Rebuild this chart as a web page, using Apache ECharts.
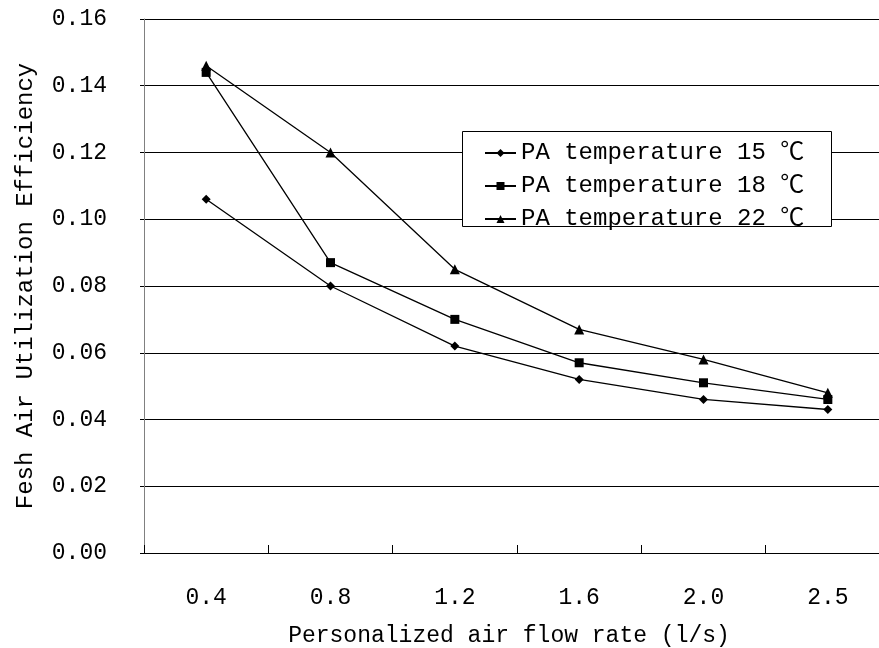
<!DOCTYPE html>
<html>
<head>
<meta charset="utf-8">
<script src="https://cdn.jsdelivr.net/npm/echarts@6/dist/echarts.min.js"></script>
<style>
  html, body { margin: 0; padding: 0; background: #fff; }
  #chart { width: 879px; height: 648px; }
</style>
</head>
<body>
<div id="chart"></div>
<script>
// Personalized air flow rate categories (l/s)
const categories = ['0.4', '0.8', '1.2', '1.6', '2.0', '2.5'];
// Fresh air utilization efficiency per PA supply temperature
const pa15 = [0.106, 0.080, 0.062, 0.052, 0.046, 0.043];
const pa18 = [0.144, 0.087, 0.070, 0.057, 0.051, 0.046];
const pa22 = [0.146, 0.120, 0.085, 0.067, 0.058, 0.048];
const seriesNames = ['PA temperature 15 \u2103', 'PA temperature 18 \u2103', 'PA temperature 22 \u2103'];

const FONT = '"Liberation Mono", "Noto Sans CJK SC", monospace';

const chart = echarts.init(document.getElementById('chart'), null, { renderer: 'canvas' });

function lineSeries(name, data, symbol, size) {
  return {
    name: name,
    type: 'line',
    data: data,
    symbol: symbol,
    symbolSize: size,
    showSymbol: true,
    animation: false,
    lineStyle: { color: '#000', width: 1.3 },
    itemStyle: { color: '#000' }
  };
}

chart.setOption({
  animation: false,
  backgroundColor: '#fff',
  textStyle: { fontFamily: FONT },
  // plot area runs slightly past the right edge of the canvas
  grid: { left: 144, top: 19, width: 746, height: 534, outerBoundsMode: 'none', containLabel: false },
  // framed white panel behind the legend
  graphic: [{
    type: 'rect',
    z: 3,
    shape: { x: 462.5, y: 131.5, width: 369, height: 95 },
    style: { fill: '#fff', stroke: '#000', lineWidth: 1 }
  }],
  legend: {
    orient: 'vertical',
    left: 462,
    top: 131,
    z: 5,
    padding: [10, 28, 0, 22],
    itemWidth: 31,
    itemHeight: 10,
    itemGap: 9,
    textStyle: { fontFamily: FONT, fontSize: 24, color: '#000' },
    data: seriesNames
  },
  xAxis: {
    type: 'category',
    data: categories,
    boundaryGap: true,
    axisLine: { lineStyle: { color: '#000', width: 1 } },
    axisTick: { show: true, inside: true, length: 8, lineStyle: { color: '#000' } },
    axisLabel: { fontFamily: FONT, fontSize: 23, color: '#000', margin: 33 },
    name: 'Personalized air flow rate (l/s)',
    nameLocation: 'middle',
    nameGap: 71,
    nameTextStyle: { fontFamily: FONT, fontSize: 23, color: '#000', padding: [0, 16, 0, 0] },
    splitLine: { show: false }
  },
  yAxis: {
    type: 'value',
    min: 0,
    max: 0.16,
    interval: 0.02,
    axisLine: { show: true, lineStyle: { color: '#808080', width: 1 } },
    axisTick: { show: true, length: 4, lineStyle: { color: '#000' } },
    axisLabel: {
      fontFamily: FONT, fontSize: 23, color: '#000', margin: 37,
      formatter: v => v.toFixed(2)
    },
    splitLine: { show: true, lineStyle: { color: '#000', width: 1 } },
    name: 'Fesh Air Utilization Efficiency',
    nameLocation: 'middle',
    nameGap: 106,
    nameRotate: 90,
    nameTextStyle: { fontFamily: FONT, fontSize: 24, color: '#000' }
  },
  series: [
    lineSeries(seriesNames[0], pa15, 'diamond', 9),
    lineSeries(seriesNames[1], pa18, 'rect', 9),
    lineSeries(seriesNames[2], pa22, 'triangle', 10)
  ]
});
</script>
</body>
</html>
